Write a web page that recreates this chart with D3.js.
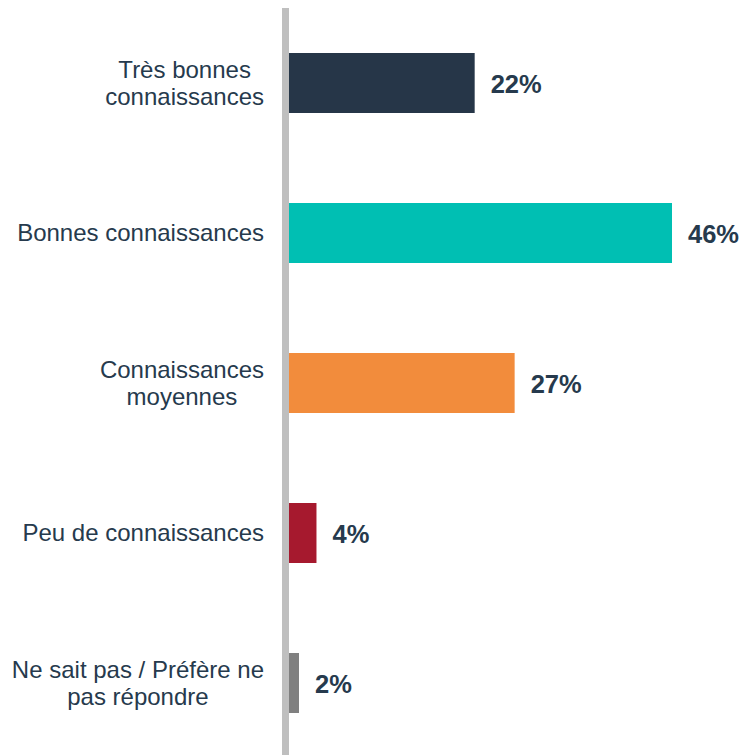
<!DOCTYPE html>
<html>
<head>
<meta charset="utf-8">
<script src="https://cdn.jsdelivr.net/npm/d3@7"></script>
<style>
  body { margin: 0; background: #fff; }
  text { font-family: "Liberation Sans", Arial, sans-serif; }
</style>
</head>
<body>
<div class="chart"></div>
<script>
// categories, one array of lines per label
var categories = [
    ["Très bonnes", "connaissances"],
    ["Bonnes connaissances"],
    ["Connaissances", "moyennes"],
    ["Peu de connaissances"],
    ["Ne sait pas / Préfère ne", "pas répondre"]
];
// bar lengths (percent)
var values = [22.3, 46, 27.1, 3.3, 1.2];
var valueLabels = ["22%", "46%", "27%", "4%", "2%"];
var colors = ["#263648", "#00bfb3", "#f28c3c", "#a6192e", "#808080"];

var width = 742, height = 755;
var textColor = "#263a4d";

var svg = d3.select(".chart").append("svg")
        .attr("width", width)
        .attr("height", height);

var x = d3.scaleLinear()
        .domain([0, 46])
        .range([289, 672]);

var y = d3.scaleBand()
        .domain(d3.range(categories.length))
        .range([8, 758])
        .paddingInner(0.6)
        .paddingOuter(0.3);

// bars
svg.selectAll(".bar")
        .data(values)
        .enter().append("rect")
        .attr("class", "bar")
        .attr("x", x(0))
        .attr("y", (d, i) => y(i))
        .attr("width", (d) => x(d) - x(0))
        .attr("height", y.bandwidth())
        .style("fill", (d, i) => colors[i]);

// vertical axis line
svg.append("rect")
        .attr("x", 282)
        .attr("y", 8)
        .attr("width", 7)
        .attr("height", height - 8)
        .style("fill", "#bfbfbf");

// value labels
svg.selectAll(".val")
        .data(values)
        .enter().append("text")
        .attr("class", "val")
        .attr("x", (d) => x(d) + 16)
        .attr("y", (d, i) => y(i) + y.bandwidth() / 2)
        .attr("dy", "0.38em")
        .style("font-size", "25.5px")
        .style("font-weight", "bold")
        .style("fill", textColor)
        .text((d, i) => valueLabels[i]);

// category labels: block right-aligned, lines centred inside it
var lineHeight = 27.5;
var labelRight = 264;
var cat = svg.selectAll(".cat")
        .data(categories)
        .enter().append("text")
        .attr("class", "cat")
        .attr("text-anchor", "middle")
        .style("font-size", "24px")
        .style("fill", textColor);

cat.each(function (lines, i) {
    var mid = y(i) + y.bandwidth() / 2;
    var start = mid - (lines.length - 1) * lineHeight / 2;
    var spans = d3.select(this).selectAll("tspan")
            .data(lines)
            .enter().append("tspan")
            .attr("y", (d, j) => start + j * lineHeight)
            .attr("dy", "0.35em")
            .text((d) => d);
    var maxW = 0;
    spans.each(function () {
        maxW = Math.max(maxW, this.getComputedTextLength());
    });
    spans.attr("x", labelRight - maxW / 2);
});
</script>
</body>
</html>
